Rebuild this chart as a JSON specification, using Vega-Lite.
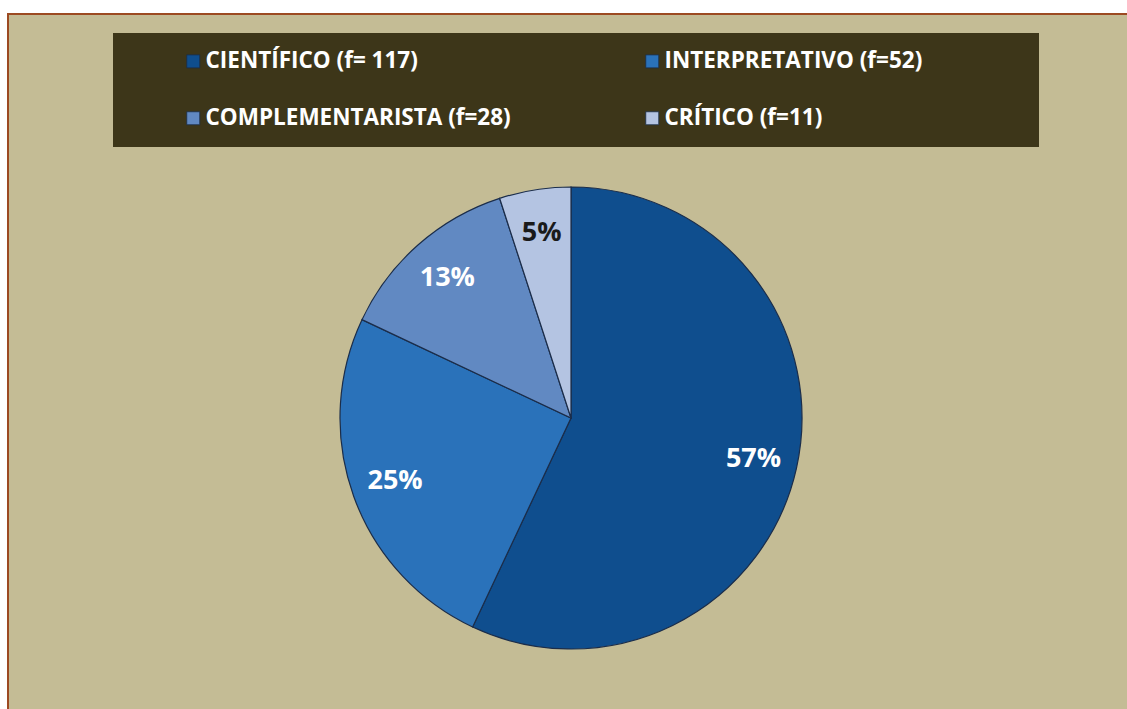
{
  "$schema": "https://vega.github.io/schema/vega-lite/v6.json",
  "width": 1126,
  "height": 808,
  "autosize": {"type": "none"},
  "padding": {"left": 8, "top": 14, "right": 0, "bottom": 0},
  "background": "white",
  "view": {"fill": "#c4bc95", "stroke": "#9c4a22", "strokeWidth": 2},
  "config": {
    "view": {"fill": "#c4bc95", "stroke": "#9c4a22", "strokeWidth": 2},
    "font": "Open Sans"
  },
  "data": {
    "values": [
      {"categoria": "CIENTÍFICO (f= 117)", "f": 117, "pct": 57, "etiqueta": "57%"},
      {"categoria": "INTERPRETATIVO (f=52)", "f": 52, "pct": 25, "etiqueta": "25%"},
      {"categoria": "COMPLEMENTARISTA (f=28)", "f": 28, "pct": 13, "etiqueta": "13%"},
      {"categoria": "CRÍTICO (f=11)", "f": 11, "pct": 5, "etiqueta": "5%"}
    ]
  },
  "encoding": {
    "theta": {"field": "pct", "type": "quantitative", "stack": true},
    "order": {"field": "pct", "type": "quantitative", "sort": "descending"}
  },
  "layer": [
    {
      "mark": {"type": "arc", "outerRadius": 231, "stroke": "#1b2d4a", "strokeWidth": 1.2},
      "encoding": {
        "color": {
          "field": "categoria",
          "type": "nominal",
          "sort": null,
          "scale": {
            "domain": ["CIENTÍFICO (f= 117)", "INTERPRETATIVO (f=52)", "COMPLEMENTARISTA (f=28)", "CRÍTICO (f=11)"],
            "range": ["#0f4e8e", "#2a72ba", "#6189c2", "#b4c4e2"]
          },
          "legend": {
            "orient": "none",
            "direction": "horizontal",
            "legendX": 105,
            "legendY": 19,
            "columns": 2,
            "columnPadding": 130,
            "rowPadding": 34,
            "padding": 17,
            "fillColor": "#3d3619",
            "strokeColor": null,
            "title": "\u00a0",
            "titleOrient": "left",
            "titleFontSize": 10,
            "titlePadding": 52,
            "symbolType": "square",
            "symbolSize": 169,
            "symbolStrokeWidth": 0.8,
            "symbolStrokeColor": "#1b2d4a",
            "labelFont": "Open Sans",
            "labelFontSize": 22.5,
            "labelFontWeight": "bold",
            "labelColor": "white",
            "labelOffset": 1,
            "labelLimit": 0,
            "labelExpr": "datum.value == 'INTERPRETATIVO (f=52)' ? datum.label + '\u00a0\u00a0\u00a0\u00a0\u00a0\u00a0\u00a0\u00a0\u00a0\u00a0\u00a0\u00a0\u00a0\u00a0\u00a0\u00a0\u00a0\u200b' : datum.label"
          }
        }
      }
    },
    {
      "mark": {"type": "text", "radius": 187, "font": "Open Sans", "fontSize": 27, "fontWeight": "bold"},
      "encoding": {
        "text": {"field": "etiqueta"},
        "color": {"condition": {"test": "datum.pct < 10", "value": "#1a1a1a"}, "value": "white"}
      }
    }
  ]
}
